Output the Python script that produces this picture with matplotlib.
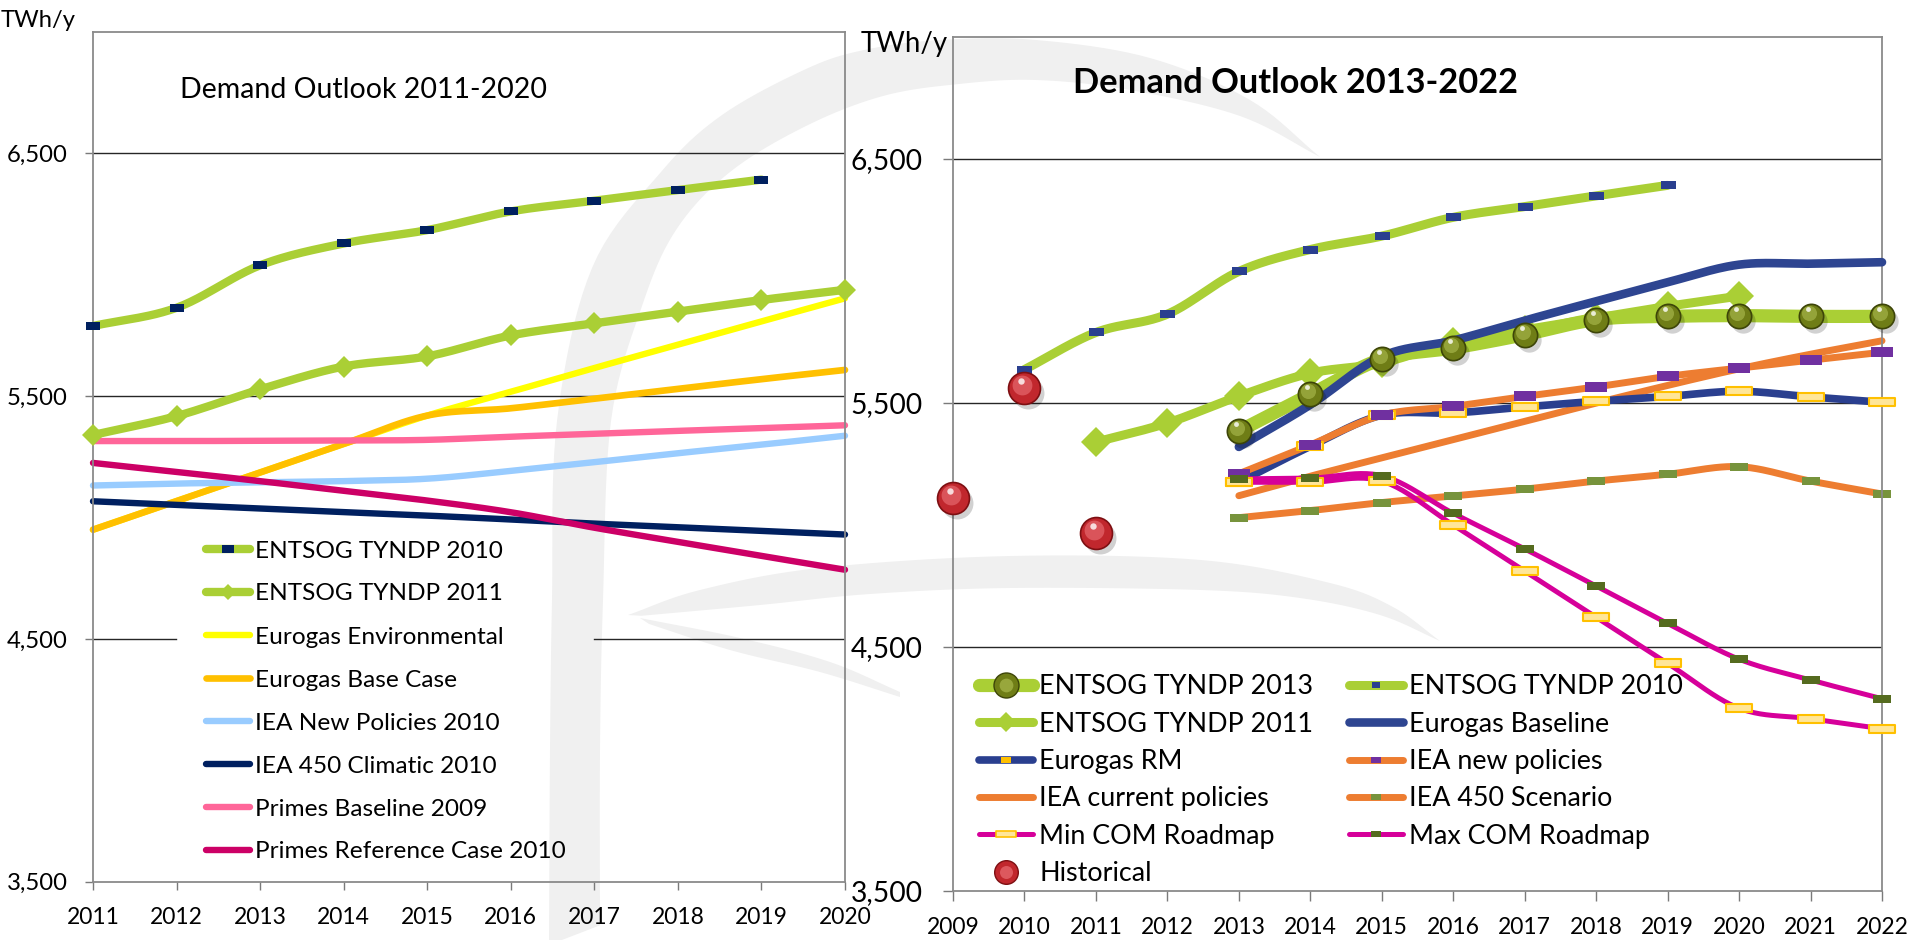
import numpy as np
import matplotlib
matplotlib.use("Agg")
import matplotlib.pyplot as plt
from matplotlib.lines import Line2D
from matplotlib.path import Path
from matplotlib.patches import PathPatch
from matplotlib.ticker import FuncFormatter
from matplotlib.legend_handler import HandlerTuple
import matplotlib.transforms as mtrans

plt.rcParams['font.family'] = ['Lato', 'DejaVu Sans']

W, H = 1915, 940

# ---------------- data ----------------
years_left = list(range(2011, 2021))
years_right = list(range(2009, 2023))
yticks = [3500, 4500, 5500, 6500]

entsog2010_years = list(range(2010, 2020))
entsog2010 = [5637, 5789, 5864, 6039, 6129, 6184, 6261, 6305, 6349, 6392]
entsog2011_years = list(range(2011, 2021))
entsog2011 = [5340, 5418, 5528, 5622, 5664, 5750, 5800, 5848, 5896, 5938]

eurogas_env = [4950, 5068, 5186, 5303, 5420, 5518, 5616, 5712, 5808, 5903]
eurogas_base = [4950, 5068, 5186, 5303, 5420, 5450, 5490, 5530, 5570, 5608]
iea_newpol_2010 = [5132, 5140, 5145, 5150, 5160, 5192, 5228, 5265, 5300, 5337]
iea_450_2010 = [5067, 5052, 5037, 5022, 5008, 4992, 4975, 4960, 4945, 4930]
primes_base_2009 = [5315, 5315, 5316, 5317, 5320, 5333, 5345, 5357, 5368, 5380]
primes_ref_2010 = [5225, 5188, 5150, 5110, 5070, 5022, 4958, 4900, 4842, 4785]

hist_years = [2009, 2010, 2011]
historical = [5111, 5562, 4968]
outlook_years = list(range(2013, 2023))
entsog2013 = [5385, 5535, 5680, 5725, 5780, 5842, 5855, 5858, 5855, 5855]
eurogas_baseline = [5320, 5493, 5691, 5756, 5838, 5917, 5995, 6067, 6071, 6077]
eurogas_rm = [5175, 5322, 5450, 5459, 5484, 5507, 5527, 5548, 5525, 5503]
iea_new = [5210, 5328, 5450, 5486, 5527, 5566, 5609, 5643, 5675, 5708]
iea_current = [5120, 5200, 5275, 5350, 5425, 5500, 5572, 5640, 5700, 5755]
iea_450 = [5030, 5059, 5092, 5119, 5147, 5180, 5208, 5239, 5180, 5127]
min_com = [5175, 5175, 5180, 5000, 4811, 4622, 4433, 4249, 4206, 4165]
max_com = [5189, 5192, 5202, 5048, 4902, 4750, 4597, 4450, 4365, 4288]

left_labels = ['ENTSOG TYNDP 2010', 'ENTSOG TYNDP 2011', 'Eurogas Environmental',
               'Eurogas Base Case', 'IEA New Policies 2010', 'IEA 450 Climatic 2010',
               'Primes Baseline 2009', 'Primes Reference Case 2010']
right_labels = ['ENTSOG TYNDP 2013', 'ENTSOG TYNDP 2011', 'Eurogas RM', 'IEA current policies',
                'Min COM Roadmap', 'Historical', 'ENTSOG TYNDP 2010', 'Eurogas Baseline',
                'IEA new policies', 'IEA 450 Scenario', 'Max COM Roadmap']

# ---------------- colours ----------------
LGREEN = '#aacf35'
NAVY_D = '#00205f'
NAVY_M = '#2a3f8f'
ORANGE = '#ed7d31'
PURPLE = '#7030a0'
G450 = '#77933c'
GMAX = '#556b1f'
MAGENTA = '#d6009a'
YEL_F, YEL_E = '#ffe699', '#ffc000'

# ---------------- figure ----------------
fig = plt.figure(figsize=(W / 100, H / 100), dpi=100)
fig.patch.set_facecolor('white')
R = fig.canvas.get_renderer()


def px2fig(x, y):
    return (x / W, 1 - y / H)


def fit_size(s, target, weight='normal'):
    t = fig.text(0, 0, s, fontsize=20, fontweight=weight)
    w = t.get_window_extent(renderer=R).width
    t.remove()
    return 20.0 * target / w


def smooth_xy(xs, ys, n=24):
    x = np.asarray(xs, float)
    y = np.asarray(ys, float)
    if len(x) < 3:
        return x, y
    xp = np.r_[2 * x[0] - x[1], x, 2 * x[-1] - x[-2]]
    yp = np.r_[2 * y[0] - y[1], y, 2 * y[-1] - y[-2]]
    t = np.linspace(0, 1, n, endpoint=False)
    h00 = 2 * t**3 - 3 * t**2 + 1
    h10 = t**3 - 2 * t**2 + t
    h01 = -2 * t**3 + 3 * t**2
    h11 = t**3 - t**2
    X, Y = [], []
    for i in range(1, len(xp) - 2):
        for arr, out in ((xp, X), (yp, Y)):
            p0, p1, p2, p3 = arr[i - 1:i + 3]
            m1 = (p2 - p0) / 2
            m2 = (p3 - p1) / 2
            out.extend(h00 * p1 + h10 * m1 + h01 * p2 + h11 * m2)
    X.append(x[-1])
    Y.append(y[-1])
    return np.array(X), np.array(Y)


def rect_marker(aspect):
    return Path([(-1, -aspect), (1, -aspect), (1, aspect), (-1, aspect), (-1, -aspect)],
                [Path.MOVETO, Path.LINETO, Path.LINETO, Path.LINETO, Path.CLOSEPOLY])


def draw(ax, xs, ys, color, lw, z, marker=None, ms=0, mfc=None, mec='none', mew=0, mz=None):
    sx, sy = smooth_xy(xs, ys)
    ax.plot(sx, sy, color=color, lw=lw, solid_capstyle='round', solid_joinstyle='round',
            zorder=z, clip_on=False)
    if marker is not None:
        ax.plot(xs, ys, ls='none', marker=marker, ms=ms, mfc=mfc, mec=mec, mew=mew,
                zorder=(mz if mz is not None else z + 0.05), clip_on=False)


def spheres(ax, xs, ys, base, dark, light, ms, z):
    sh = mtrans.offset_copy(ax.transData, fig=fig, x=4, y=-5, units='dots')
    ax.plot(xs, ys, ls='none', marker='o', ms=ms, mfc='#000000', mec='none', alpha=0.18,
            transform=sh, zorder=z, clip_on=False)
    ax.plot(xs, ys, ls='none', marker='o', ms=ms, mfc=base, mec=dark, mew=1.2,
            zorder=z + 0.01, clip_on=False)
    hl = mtrans.offset_copy(ax.transData, fig=fig, x=-2, y=3, units='dots')
    ax.plot(xs, ys, ls='none', marker='o', ms=ms * 0.62, mfc=light, mec='none', alpha=0.55,
            transform=hl, zorder=z + 0.02, clip_on=False)
    sp = mtrans.offset_copy(ax.transData, fig=fig, x=-3, y=7, units='dots')
    ax.plot(xs, ys, ls='none', marker='o', ms=ms * 0.2, mfc='white', mec='none', alpha=0.8,
            transform=sp, zorder=z + 0.03, clip_on=False)


# ---------------- watermark ----------------
def smooth_pts(pts, n=10):
    p = np.asarray(pts, float)
    _, xs = smooth_xy(np.arange(len(p)), p[:, 0], n)
    _, ys = smooth_xy(np.arange(len(p)), p[:, 1], n)
    return np.column_stack([xs, ys])


def add_shape(outer, inner, color='#f0f0f0'):
    pts = np.vstack([smooth_pts(outer), smooth_pts(inner)])
    fpts = np.column_stack([pts[:, 0] / W, 1 - pts[:, 1] / H])
    codes = [Path.MOVETO] + [Path.LINETO] * (len(fpts) - 2) + [Path.CLOSEPOLY]
    fig.add_artist(PathPatch(Path(fpts, codes), transform=fig.transFigure,
                             facecolor=color, edgecolor='none', zorder=-5))


add_shape([(549, 945), (550, 750), (552, 600), (557, 421), (592, 268), (661, 172), (722, 115),
           (806, 69), (864, 50), (940, 40), (1036, 40), (1150, 58), (1250, 100), (1320, 157)],
          [(1320, 157), (1240, 116), (1130, 90), (1036, 80), (959, 84), (883, 96), (806, 126),
           (730, 172), (676, 230), (642, 306), (611, 421), (603, 600), (600, 750), (600, 945)])
add_shape([(628, 615), (700, 590), (819, 568), (1010, 556), (1201, 560), (1330, 583),
           (1393, 607), (1440, 641)],
          [(1440, 641), (1380, 615), (1300, 598), (1201, 590), (1010, 588), (870, 594),
           (760, 605), (628, 617)])
add_shape([(640, 618), (740, 638), (830, 662), (900, 692)],
          [(900, 697), (820, 672), (730, 650), (640, 621)])

# ---------------- axes ----------------
L_X0, L_X1 = 93, 845
ax_l = fig.add_axes([L_X0 / W, 1 - 881.7 / H, (L_X1 - L_X0) / W, (881.7 - 32) / H])
ax_r = fig.add_axes([953 / W, 1 - 891 / H, (1882 - 953) / W, (891 - 37) / H])

fs_yl = fit_size('6,500', 61)
fs_yr = fit_size('6,500', 72)
fs_x = fit_size('2011', 53)

GRID = dict(color='#262626', lw=1.0, zorder=0.5)

pads = {}
for ax, xl, xt, fy, tl in ((ax_l, (2011, 2020), years_left, fs_yl, 6.0),
                           (ax_r, (2009, 2022), years_right, fs_yr, 7.0)):
    ax.set_xlim(*xl)
    ax.set_ylim(3500, 7000)
    ax.set_xticks(xt)
    ax.set_xticklabels([str(v) for v in xt])
    ax.set_yticks(yticks)
    ax.yaxis.set_major_formatter(FuncFormatter(lambda v, p: f"{int(v):,}"))
    ax.set_facecolor('none')
    for s in ax.spines.values():
        s.set_color('#8a8a8a')
        s.set_linewidth(1.3)
    ax.tick_params(axis='both', direction='out', color='#7a7a7a', width=1.0, length=tl)
    ax.tick_params(axis='y', labelsize=fy, pad=10)
    ax.tick_params(axis='x', labelsize=fs_x, pad=8)
    pads[ax] = [10.0, 8.0]

# gridlines (left 4,500 line is interrupted behind the legend box)
gap0 = (176 - L_X0) / (L_X1 - L_X0)
gap1 = (594 - L_X0) / (L_X1 - L_X0)
for v in yticks[1:]:
    ax_r.axhline(v, **GRID)
    if v == 4500:
        ax_l.axhline(v, xmin=0, xmax=gap0, **GRID)
        ax_l.axhline(v, xmin=gap1, xmax=1, **GRID)
    else:
        ax_l.axhline(v, **GRID)

# ---------------- left panel ----------------
draw(ax_l, years_left, eurogas_env, '#ffff00', 4.6, 2.0)
draw(ax_l, years_left, eurogas_base, '#ffc000', 4.8, 2.1)
draw(ax_l, years_left, iea_newpol_2010, '#99ccff', 4.6, 2.2)
draw(ax_l, years_left, primes_base_2009, '#ff6699', 4.6, 2.3)
draw(ax_l, years_left, iea_450_2010, '#002060', 4.6, 2.4)
draw(ax_l, years_left, primes_ref_2010, '#cc0066', 4.6, 2.5)
draw(ax_l, entsog2011_years, entsog2011, LGREEN, 6.0, 3.0, marker='D', ms=11.7, mfc=LGREEN)
draw(ax_l, entsog2010_years[1:], entsog2010[1:], LGREEN, 6.0, 3.2,
     marker=rect_marker(0.62), ms=9.4, mfc=NAVY_D)

# ---------------- right panel ----------------
draw(ax_r, outlook_years, iea_current, ORANGE, 5.0, 2.0)
draw(ax_r, outlook_years, iea_450, ORANGE, 5.0, 2.1, marker=rect_marker(0.5), ms=12.5, mfc=G450)
draw(ax_r, outlook_years, eurogas_rm, NAVY_M, 5.5, 2.2,
     marker=rect_marker(0.27), ms=19, mfc=YEL_F, mec=YEL_E, mew=1.5, mz=2.6)
draw(ax_r, outlook_years, iea_new, ORANGE, 5.0, 2.3, marker=rect_marker(0.45), ms=15.8,
     mfc=PURPLE, mz=2.7)
draw(ax_r, outlook_years, min_com, MAGENTA, 3.6, 3.0,
     marker=rect_marker(0.27), ms=19, mfc=YEL_F, mec=YEL_E, mew=1.5, mz=3.5)
draw(ax_r, outlook_years, max_com, MAGENTA, 3.6, 3.1, marker=rect_marker(0.5), ms=12.5,
     mfc=GMAX, mz=3.6)
draw(ax_r, entsog2011_years, entsog2011, LGREEN, 6.5, 3.2, marker='D', ms=15, mfc=LGREEN)
draw(ax_r, outlook_years, entsog2013, LGREEN, 9.5, 3.3)
draw(ax_r, outlook_years, eurogas_baseline, '#2e4591', 6.2, 3.4)
draw(ax_r, entsog2010_years, entsog2010, LGREEN, 6.5, 3.5, marker=rect_marker(0.47),
     ms=10.8, mfc=NAVY_M)
spheres(ax_r, outlook_years, entsog2013, '#6f7d16', '#3d4508', '#b4c456', 17.5, 4.5)
spheres(ax_r, hist_years, historical, '#c1272d', '#7d0f12', '#f07a80', 23, 5.0)

# ---------------- texts ----------------
fig.text(1 / W, 1 - 27 / H, 'TWh/y', fontsize=fit_size('TWh/y', 75), va='baseline', ha='left')
fig.text(861 / W, 1 - 52 / H, 'TWh/y', fontsize=fit_size('TWh/y', 87), va='baseline', ha='left')
fig.text(180 / W, 1 - 98.3 / H, 'Demand Outlook 2011-2020',
         fontsize=fit_size('Demand Outlook 2011-2020', 367), va='baseline', ha='left')
fig.text(1073 / W, 1 - 93.3 / H, 'Demand Outlook 2013-2022', fontweight='bold',
         fontsize=fit_size('Demand Outlook 2013-2022', 444, 'bold'), va='baseline', ha='left')

# ---------------- tick label placement ----------------
targets = {ax_l: (68, 917), ax_r: (923, 927)}
for _ in range(2):
    fig.canvas.draw()
    for ax, (yr, xc) in targets.items():
        ylab = [t for t in ax.get_yticklabels() if t.get_text()][-1]
        bb = ylab.get_window_extent()
        pads[ax][0] += (bb.x1 - yr) * 0.72
        xlab = [t for t in ax.get_xticklabels() if t.get_text()][0]
        bx = xlab.get_window_extent()
        cur = H - (bx.y0 + bx.y1) / 2
        pads[ax][1] += (xc - cur) * 0.72
        ax.tick_params(axis='y', pad=pads[ax][0])
        ax.tick_params(axis='x', pad=pads[ax][1])


# ---------------- legends ----------------
def H_line(color, lw, marker=None, ms=0, mfc=None, mec='none', mew=0):
    return Line2D([], [], color=color, lw=lw, marker=marker, ms=ms, mfc=mfc, mec=mec,
                  mew=mew, solid_capstyle='round')


def H_ball(base, dark, light, ms, line=None, lw=0):
    parts = []
    if line is not None:
        parts.append(Line2D([], [], color=line, lw=lw, solid_capstyle='round'))
    parts.append(Line2D([], [], ls='none', marker='o', ms=ms, mfc=base, mec=dark, mew=1.0))
    parts.append(Line2D([], [], ls='none', marker='o', ms=ms * 0.55, mfc=light, mec='none',
                        alpha=0.6))
    return tuple(parts)


left_handles = [
    H_line(LGREEN, 6.0, rect_marker(0.7), 8, NAVY_D),
    H_line(LGREEN, 6.0, 'D', 8.5, LGREEN),
    H_line('#ffff00', 4.6), H_line('#ffc000', 4.8), H_line('#99ccff', 4.6),
    H_line('#002060', 4.6), H_line('#ff6699', 4.6), H_line('#cc0066', 4.6)]
right_handles = [
    H_ball('#6f7d16', '#3d4508', '#b4c456', 18, LGREEN, 9.5),
    H_line(LGREEN, 6.5, 'D', 10, LGREEN),
    H_line(NAVY_M, 5.5, rect_marker(0.7), 7, YEL_E),
    H_line(ORANGE, 5.0),
    H_line(MAGENTA, 3.6, rect_marker(0.3), 14, YEL_F, YEL_E, 1.2),
    H_ball('#c1272d', '#7d0f12', '#f07a80', 17),
    H_line(LGREEN, 6.5, rect_marker(0.7), 6, NAVY_M),
    H_line('#2e4591', 6.2),
    H_line(ORANGE, 5.0, rect_marker(0.7), 7, PURPLE),
    H_line(ORANGE, 5.0, rect_marker(0.7), 7, G450),
    H_line(MAGENTA, 3.6, rect_marker(0.7), 7, GMAX)]


def make_legend(ax, handles, labels, fs, ncol, hl_px, gap_px, ls, cs, anchor):
    fs_px = fs * 100 / 72
    return ax.legend(handles, labels, ncol=ncol, fontsize=fs, frameon=False, loc='upper left',
                     bbox_to_anchor=anchor, bbox_transform=fig.transFigure, borderaxespad=0,
                     borderpad=0, handlelength=hl_px / fs_px, handletextpad=gap_px / fs_px,
                     labelspacing=ls, columnspacing=cs,
                     handler_map={tuple: HandlerTuple(ndivide=1, pad=0)})


def fit_legend(ax, handles, labels, fs, ncol, hl_px, gap_px, text_left, row0_y, pitch,
               col2_left=None):
    fs_px = fs * 100 / 72
    ls, cs = 0.5, 1.0
    anchor = px2fig(text_left - hl_px - gap_px, row0_y - pitch / 2)
    nrows = -(-len(labels) // ncol)
    for _ in range(4):
        leg = make_legend(ax, handles, labels, fs, ncol, hl_px, gap_px, ls, cs, anchor)
        fig.canvas.draw()
        tb = [t.get_window_extent() for t in leg.get_texts()]
        cur_pitch = ((tb[0].y0 + tb[0].y1) - (tb[1].y0 + tb[1].y1)) / 2
        ls += (pitch - cur_pitch) / fs_px
        if col2_left is not None:
            cur = tb[nrows].x0 - tb[0].x0
            cs += ((col2_left - text_left) - cur) / fs_px
        cy = H - (tb[0].y0 + tb[0].y1) / 2
        dx = text_left - tb[0].x0
        dy = row0_y - cy
        anchor = (anchor[0] + dx / W, anchor[1] - dy / H)
        leg.remove()
    return make_legend(ax, handles, labels, fs, ncol, hl_px, gap_px, ls, cs, anchor)


fs_leg_l = fit_size('Primes Reference Case 2010', 310)
fs_leg_r = fit_size('ENTSOG TYNDP 2013', 273)
leg_l = fit_legend(ax_l, left_handles, left_labels, fs_leg_l, 1, 44, 5, 255, 551, 43)
leg_r = fit_legend(ax_r, right_handles, right_labels, fs_leg_r, 2, 54, 6, 1039, 687, 37.3,
                   col2_left=1409)

fig.savefig('out.png', dpi=100, facecolor='white')
